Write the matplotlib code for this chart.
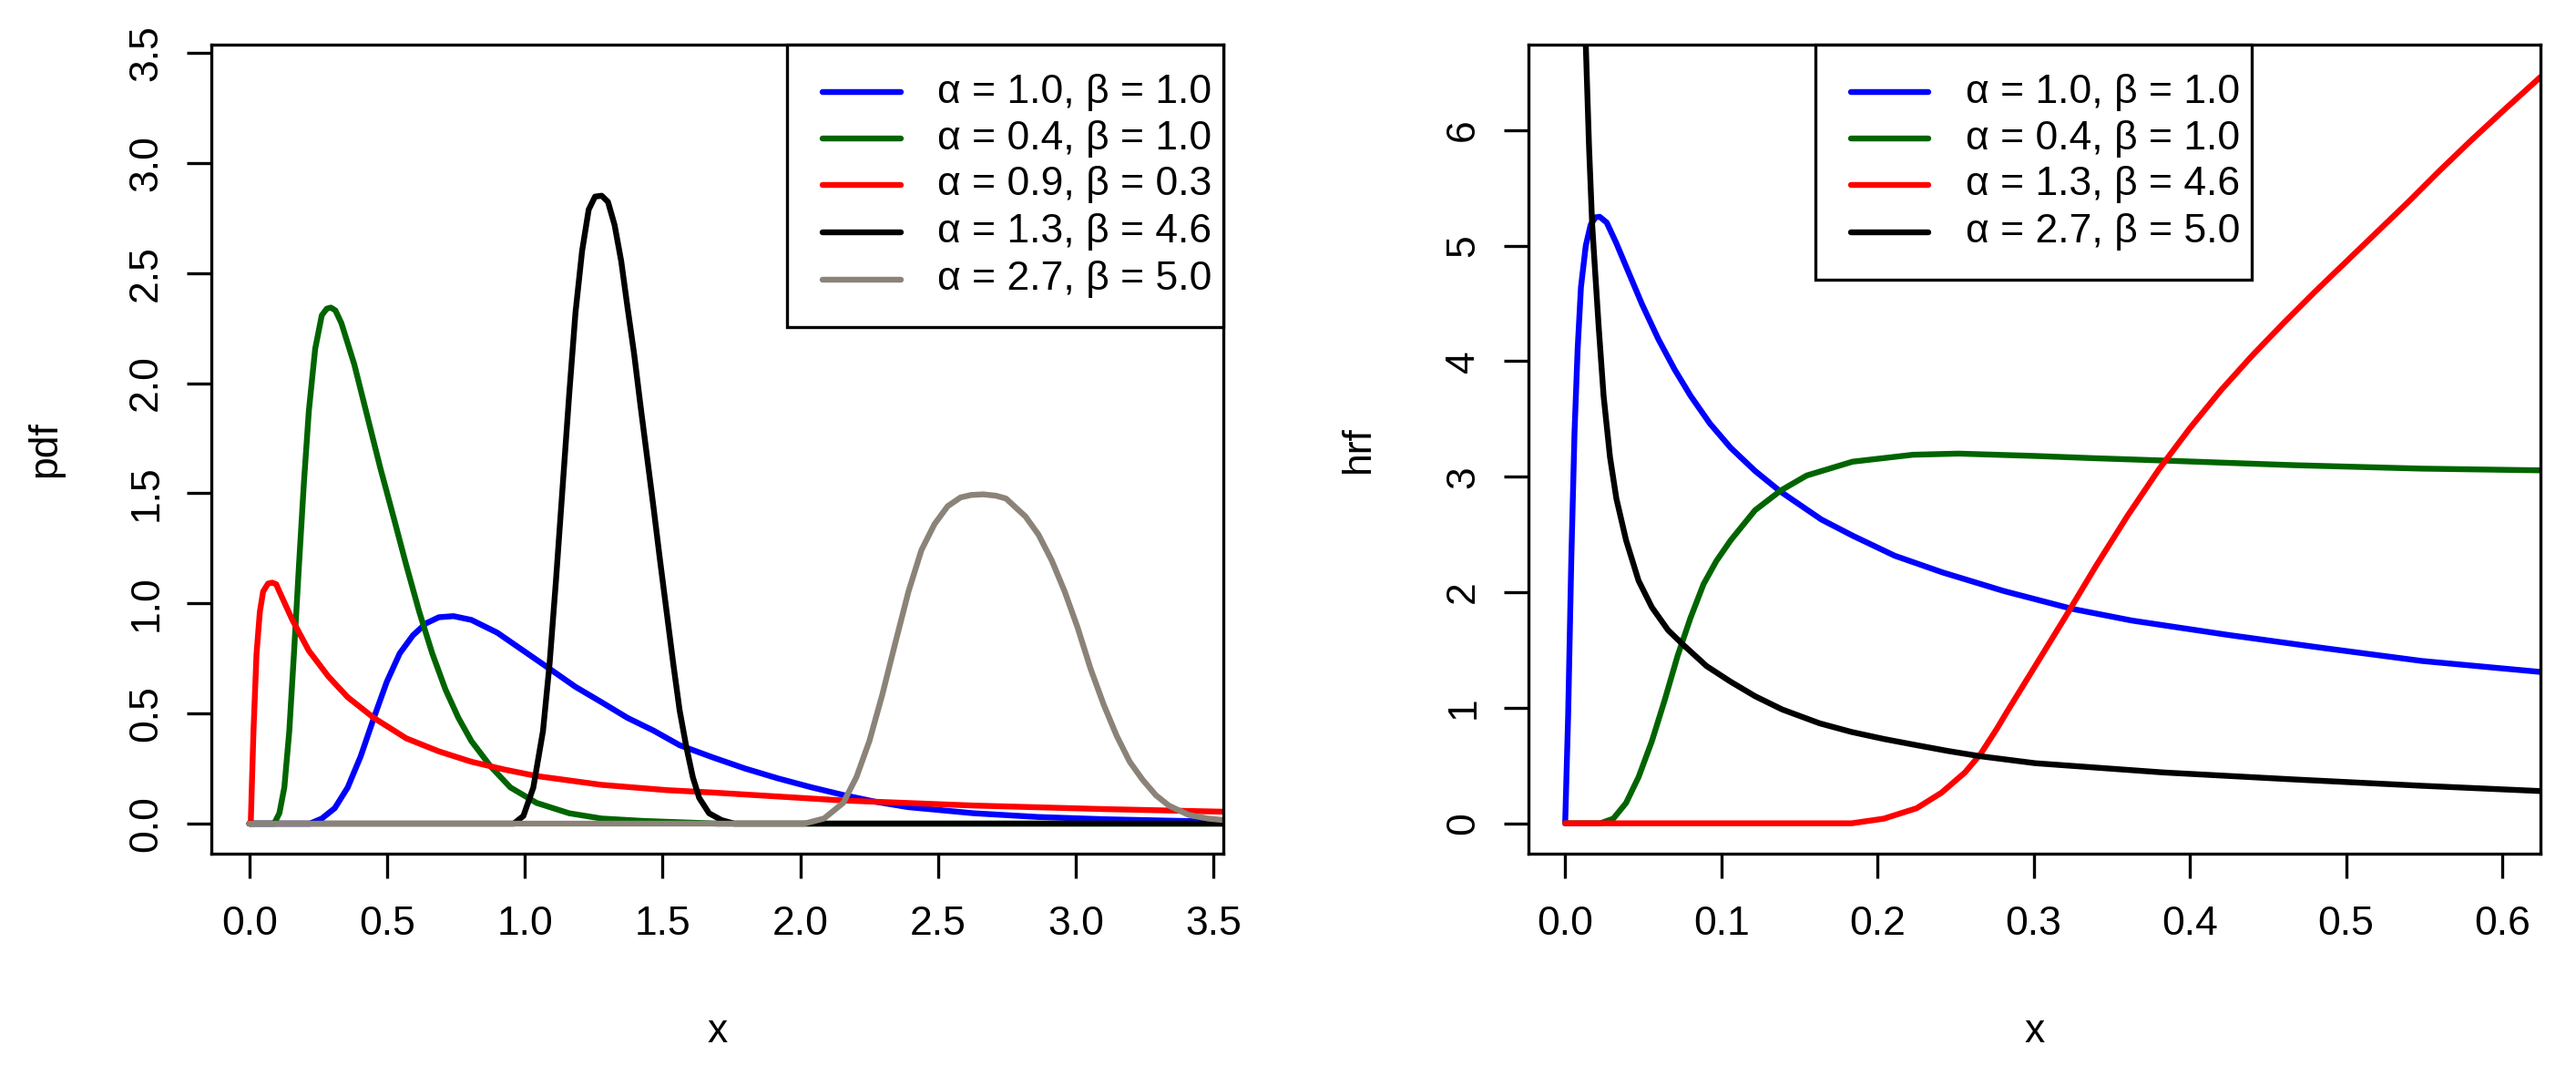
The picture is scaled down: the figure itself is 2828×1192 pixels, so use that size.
import matplotlib
matplotlib.use("Agg")
import matplotlib.pyplot as plt
from matplotlib.patches import Rectangle

plt.rcParams['font.family'] = ['Liberation Sans', 'DejaVu Sans']

# ---- dados (pdf, painel esquerdo) ----
pdf_labels = ["α = 1.0, β = 1.0", "α = 0.4, β = 1.0", "α = 0.9, β = 0.3",
              "α = 1.3, β = 4.6", "α = 2.7, β = 5.0"]
pdf_colors = ["#0000FF", "#006400", "#FF0000", "#000000", "#8B8378"]

x_pdf_blue = [0, 0.22, 0.263, 0.31, 0.357, 0.404, 0.452, 0.499, 0.546, 0.594, 0.641, 0.688,
              0.741, 0.806, 0.90, 0.995, 1.09, 1.184, 1.279, 1.373, 1.468, 1.562, 1.684, 1.80,
              1.92, 2.04, 2.156, 2.27, 2.39, 2.63, 2.865, 3.10, 3.536]
y_pdf_blue = [0, 0, 0.023, 0.07, 0.164, 0.305, 0.48, 0.644, 0.773, 0.855, 0.909, 0.937,
              0.942, 0.925, 0.867, 0.785, 0.703, 0.621, 0.551, 0.48, 0.422, 0.356, 0.30, 0.25,
              0.205, 0.165, 0.13, 0.10, 0.075, 0.047, 0.030, 0.02, 0.008]

x_pdf_green = [0, 0.09, 0.109, 0.127, 0.145, 0.162, 0.18, 0.198, 0.216, 0.239, 0.263, 0.281,
               0.296, 0.3125, 0.334, 0.381, 0.428, 0.475, 0.523, 0.57, 0.617, 0.664, 0.712,
               0.759, 0.806, 0.877, 0.948, 1.043, 1.161, 1.279, 1.432, 1.7, 3.536]
y_pdf_green = [0, 0, 0.047, 0.164, 0.42, 0.773, 1.17, 1.546, 1.874, 2.156, 2.308, 2.338,
               2.343, 2.33, 2.273, 2.085, 1.851, 1.617, 1.394, 1.172, 0.961, 0.773, 0.609,
               0.48, 0.375, 0.258, 0.164, 0.094, 0.047, 0.023, 0.012, 0.0, 0.0]

x_pdf_red = [0, 0.005, 0.015, 0.026, 0.038, 0.05, 0.068, 0.083, 0.0975, 0.109, 0.156, 0.216,
             0.287, 0.357, 0.452, 0.57, 0.688, 0.806, 0.924, 1.043, 1.279, 1.515, 1.684, 2.156,
             2.63, 3.10, 3.536]
y_pdf_red = [0, 0, 0.42, 0.77, 0.96, 1.054, 1.09, 1.094, 1.087, 1.054, 0.925, 0.785,
             0.668, 0.574, 0.48, 0.387, 0.328, 0.281, 0.246, 0.216, 0.176, 0.152, 0.141, 0.105,
             0.082, 0.066, 0.054]

x_pdf_black = [0, 0.96, 0.995, 1.031, 1.066, 1.09, 1.113, 1.137, 1.161, 1.184, 1.208, 1.232,
               1.255, 1.279, 1.302, 1.326, 1.35, 1.373, 1.397, 1.42, 1.444, 1.468, 1.491, 1.515,
               1.539, 1.562, 1.586, 1.61, 1.633, 1.669, 1.714, 1.76, 3.536]
y_pdf_black = [0, 0, 0.035, 0.164, 0.42, 0.726, 1.101, 1.523, 1.945, 2.32, 2.60, 2.788,
               2.847, 2.851, 2.823, 2.718, 2.554, 2.343, 2.132, 1.898, 1.664, 1.429, 1.195, 0.961,
               0.726, 0.515, 0.351, 0.211, 0.117, 0.047, 0.016, 0, 0]

x_pdf_gray = [0, 2.015, 2.086, 2.156, 2.204, 2.251, 2.298, 2.345, 2.393, 2.44, 2.487, 2.535,
              2.582, 2.62, 2.664, 2.71, 2.747, 2.818, 2.865, 2.913, 2.96, 3.007, 3.054, 3.102,
              3.149, 3.196, 3.243, 3.291, 3.338, 3.409, 3.48, 3.536]
y_pdf_gray = [0, 0, 0.023, 0.094, 0.211, 0.375, 0.586, 0.82, 1.054, 1.242, 1.359, 1.441,
              1.481, 1.492, 1.495, 1.489, 1.476, 1.394, 1.312, 1.195, 1.054, 0.89, 0.703, 0.539,
              0.398, 0.281, 0.199, 0.129, 0.082, 0.04, 0.023, 0.016]

# ---- dados (hrf, painel direito) ----
hrf_labels = ["α = 1.0, β = 1.0", "α = 0.4, β = 1.0", "α = 1.3, β = 4.6", "α = 2.7, β = 5.0"]
hrf_colors = ["#0000FF", "#006400", "#FF0000", "#000000"]

x_hrf_blue = [0, 0.0019, 0.0039, 0.006, 0.008, 0.0101, 0.0132, 0.0163, 0.0194, 0.0221, 0.0266,
              0.0328, 0.039, 0.0493, 0.0597, 0.070, 0.0803, 0.0927, 0.106, 0.1216, 0.138, 0.164,
              0.184, 0.211, 0.242, 0.281, 0.3247, 0.3628, 0.4247, 0.4866, 0.5486, 0.6245]
y_hrf_blue = [0, 0.93, 2.27, 3.39, 4.11, 4.64, 5.0, 5.18, 5.245, 5.25, 5.2,
              5.02, 4.82, 4.49, 4.19, 3.93, 3.70, 3.46, 3.25, 3.05, 2.87, 2.63,
              2.49, 2.316, 2.17, 2.01, 1.856, 1.755, 1.63, 1.515, 1.405, 1.31]

x_hrf_green = [0, 0.0225, 0.0308, 0.039, 0.047, 0.0555, 0.0638, 0.072, 0.0803, 0.0886, 0.0968,
               0.106, 0.1216, 0.138, 0.1546, 0.184, 0.2226, 0.2518, 0.300, 0.339, 0.383, 0.466,
               0.548, 0.6245]
y_hrf_green = [0, 0, 0.04, 0.176, 0.40, 0.71, 1.07, 1.45, 1.78, 2.07, 2.27,
               2.45, 2.71, 2.88, 3.01, 3.13, 3.19, 3.20, 3.18, 3.16, 3.14, 3.10,
               3.07, 3.055]

x_hrf_red = [0, 0.1835, 0.204, 0.225, 0.241, 0.256, 0.266, 0.2765, 0.2829, 0.30, 0.32, 0.34,
             0.36, 0.38, 0.40, 0.42, 0.44, 0.46, 0.48, 0.50, 0.52, 0.54, 0.56, 0.58, 0.60, 0.6245]
y_hrf_red = [0, 0, 0.04, 0.13, 0.265, 0.44, 0.60, 0.82, 0.965, 1.34, 1.78, 2.23,
             2.66, 3.06, 3.42, 3.75, 4.05, 4.33, 4.60, 4.86, 5.12, 5.38, 5.65, 5.91, 6.16, 6.46]

x_hrf_black = [0.0125, 0.0132, 0.0153, 0.0173, 0.0194, 0.0215, 0.0246, 0.0287, 0.0328, 0.039,
               0.047, 0.0555, 0.066, 0.076, 0.0906, 0.106, 0.1216, 0.139, 0.163, 0.1835, 0.204,
               0.225, 0.2455, 0.266, 0.301, 0.383, 0.466, 0.548, 0.6245]
y_hrf_black = [7.2, 6.74, 5.85, 5.18, 4.73, 4.29, 3.70, 3.17, 2.81, 2.45,
               2.10, 1.87, 1.67, 1.54, 1.36, 1.225, 1.10, 0.985, 0.865, 0.79, 0.73,
               0.676, 0.625, 0.58, 0.52, 0.44, 0.38, 0.325, 0.279]

pdf_x = [x_pdf_blue, x_pdf_green, x_pdf_red, x_pdf_black, x_pdf_gray]
pdf_y = [y_pdf_blue, y_pdf_green, y_pdf_red, y_pdf_black, y_pdf_gray]
hrf_x = [x_hrf_blue, x_hrf_green, x_hrf_red, x_hrf_black]
hrf_y = [y_hrf_blue, y_hrf_green, y_hrf_red, y_hrf_black]

pdf_xticks = [0.0, 0.5, 1.0, 1.5, 2.0, 2.5, 3.0, 3.5]
pdf_yticks = [0.0, 0.5, 1.0, 1.5, 2.0, 2.5, 3.0, 3.5]
hrf_xticks = [0.0, 0.1, 0.2, 0.3, 0.4, 0.5, 0.6]
hrf_yticks = [0, 1, 2, 3, 4, 5, 6]

FS = 16
LW = 2.3
BOX_LW = 1.2

fig = plt.figure(figsize=(14.14, 5.96), dpi=200)
ax1 = fig.add_axes([0.08204, 0.21393, 0.39286, 0.74497])
ax2 = fig.add_axes([0.59335, 0.21393, 0.39286, 0.74497])


def estilo(ax, xticks, yticks, xfmt, yfmt, ylabel):
    for s in ax.spines.values():
        s.set_linewidth(BOX_LW)
    ax.set_xticks(xticks)
    ax.set_yticks(yticks)
    ax.set_xticklabels([xfmt % v for v in xticks], fontsize=FS)
    ax.set_yticklabels([yfmt % v for v in yticks], fontsize=FS, rotation=90, va='center')
    ax.tick_params(axis='both', direction='out', length=9.7, width=BOX_LW)
    ax.tick_params(axis='x', pad=11)
    ax.tick_params(axis='y', pad=8.6)
    ax.set_xlabel("x", fontsize=FS)
    ax.set_ylabel(ylabel, fontsize=FS)
    ax.xaxis.label.set_va('center')
    ax.yaxis.label.set_va('center')


def legenda(ax, labels, colors, box_x0, box_x1, box_y0, line_x0, line_x1, text_x, rows):
    # caixa da legenda desenhada a mao, como no R
    ax.add_patch(Rectangle((box_x0, box_y0), box_x1 - box_x0, 1 - box_y0,
                           transform=ax.transAxes, facecolor='white', edgecolor='black',
                           linewidth=BOX_LW, zorder=5, clip_on=False))
    for lab, cor, yy in zip(labels, colors, rows):
        ax.plot([line_x0, line_x1], [yy, yy], color=cor, lw=LW, transform=ax.transAxes,
                solid_capstyle='round', zorder=6, clip_on=False)
        ax.text(text_x, yy, lab, transform=ax.transAxes, fontsize=FS, ha='left', va='center',
                zorder=6)


rows = [0.9413, 0.8839, 0.8266, 0.7685, 0.7099]

# painel esquerdo - pdf
for xs, ys, cor in zip(pdf_x, pdf_y, pdf_colors):
    ax1.plot(xs, ys, color=cor, lw=LW, solid_capstyle='round', solid_joinstyle='round')
ax1.set_xlim(-0.138, 3.536)
ax1.set_ylim(-0.1365, 3.537)
estilo(ax1, pdf_xticks, pdf_yticks, "%.1f", "%.1f", "pdf")
ax1.xaxis.set_label_coords(0.5, -0.2207)
ax1.yaxis.set_label_coords(-0.1638, 0.5)
legenda(ax1, pdf_labels, pdf_colors, 0.5692, 1.0, 0.6512, 0.6036, 0.6817, 0.7174, rows)

# painel direito - hrf
for xs, ys, cor in zip(hrf_x, hrf_y, hrf_colors):
    ax2.plot(xs, ys, color=cor, lw=LW, solid_capstyle='round', solid_joinstyle='round')
ax2.set_xlim(-0.0235, 0.6245)
ax2.set_ylim(-0.263, 6.74)
estilo(ax2, hrf_xticks, hrf_yticks, "%.1f", "%d", "hrf")
ax2.xaxis.set_label_coords(0.5, -0.2207)
ax2.yaxis.set_label_coords(-0.1683, 0.5)
legenda(ax2, hrf_labels, hrf_colors, 0.2835, 0.7147, 0.7099, 0.3186, 0.3951, 0.4317, rows[:4])

fig.savefig("out.png", dpi=200)
